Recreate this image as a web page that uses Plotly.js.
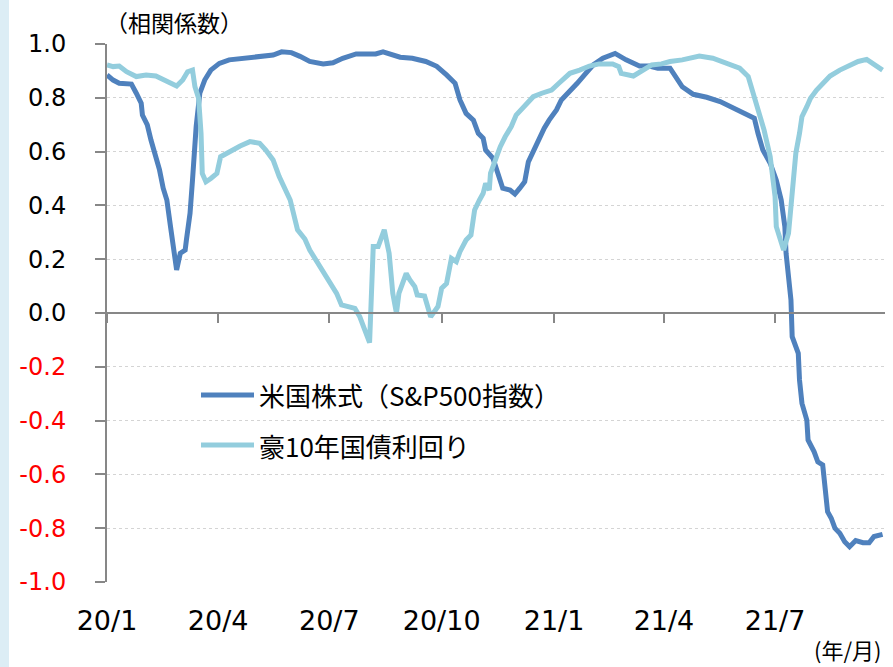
<!DOCTYPE html>
<html>
<head>
<meta charset="utf-8">
<script src="https://cdn.plot.ly/plotly-3.0.1.min.js"></script>
<style>
  html, body { margin: 0; padding: 0; }
  body { width: 893px; height: 667px; background: linear-gradient(to right, #dcedf5 0px, #dcedf5 9px, #ffffff 9px); }
  #chart { width: 893px; height: 667px; }
</style>
</head>
<body>
<div id="chart"></div>
<script>
// ---- Data ----
const seriesNames = ['米国株式（S&P500指数）', '豪10年国債利回り'];
const seriesColors = ['#4f81bd', '#93cddd'];

const spxDates = [
  '2020-01-01','2020-01-06','2020-01-11','2020-01-21','2020-01-25','2020-01-29','2020-01-30','2020-02-03',
  '2020-02-06','2020-02-10','2020-02-13','2020-02-16','2020-02-19','2020-02-22','2020-02-24','2020-02-27',
  '2020-03-01','2020-03-05','2020-03-06','2020-03-09','2020-03-11','2020-03-14','2020-03-17','2020-03-21',
  '2020-03-26','2020-04-02','2020-04-10','2020-04-21','2020-05-05','2020-05-16','2020-05-23','2020-05-31',
  '2020-06-07','2020-06-15','2020-06-26','2020-07-04','2020-07-12','2020-07-23','2020-08-08','2020-08-14',
  '2020-08-28','2020-09-07','2020-09-18','2020-09-27','2020-10-05','2020-10-12','2020-10-16','2020-10-21',
  '2020-10-27','2020-10-31','2020-11-04','2020-11-06','2020-11-12','2020-11-16','2020-11-20','2020-11-26',
  '2020-11-30','2020-12-04','2020-12-08','2020-12-11','2020-12-15','2020-12-19','2020-12-24','2020-12-28',
  '2021-01-03','2021-01-07','2021-01-14','2021-01-20','2021-01-27','2021-02-02','2021-02-10','2021-02-20',
  '2021-03-01','2021-03-12','2021-03-20','2021-03-27','2021-04-06','2021-04-11','2021-04-16','2021-04-25',
  '2021-05-06','2021-05-17','2021-05-25','2021-06-05','2021-06-14','2021-06-17','2021-06-21','2021-06-27',
  '2021-07-02','2021-07-06','2021-07-09','2021-07-10','2021-07-12','2021-07-14','2021-07-15','2021-07-20',
  '2021-07-21','2021-07-23','2021-07-27','2021-07-28','2021-08-02','2021-08-05','2021-08-09','2021-08-11',
  '2021-08-13','2021-08-16','2021-08-19','2021-08-23','2021-08-27','2021-08-31','2021-09-05','2021-09-11',
  '2021-09-16','2021-09-20','2021-09-27'
];
const spxValues = [
  0.885,0.866,0.854,0.851,0.817,0.780,0.736,0.699,
  0.643,0.587,0.532,0.464,0.420,0.321,0.259,0.160,
  0.222,0.234,0.271,0.371,0.494,0.693,0.817,0.866,
  0.903,0.928,0.941,0.947,0.954,0.959,0.971,0.968,
  0.954,0.935,0.926,0.930,0.947,0.963,0.963,0.971,
  0.951,0.947,0.935,0.917,0.885,0.854,0.792,0.742,
  0.717,0.668,0.650,0.606,0.575,0.525,0.464,0.457,
  0.442,0.464,0.488,0.562,0.600,0.643,0.687,0.717,
  0.755,0.792,0.823,0.854,0.891,0.922,0.947,0.965,
  0.941,0.918,0.918,0.910,0.910,0.879,0.841,0.813,
  0.802,0.786,0.767,0.745,0.724,0.668,0.606,0.557,
  0.494,0.420,0.321,0.222,0.135,0.048,-0.088,-0.150,
  -0.249,-0.336,-0.398,-0.472,-0.516,-0.553,-0.565,-0.646,
  -0.739,-0.763,-0.800,-0.819,-0.850,-0.869,-0.846,-0.854,
  -0.854,-0.831,-0.823
];

const bondDates = [
  '2020-01-01','2020-01-06','2020-01-11','2020-01-17','2020-01-25','2020-02-02','2020-02-10','2020-02-19',
  '2020-02-27','2020-03-03','2020-03-07','2020-03-11','2020-03-13','2020-03-16','2020-03-18','2020-03-19',
  '2020-03-22','2020-03-26','2020-03-31','2020-04-03','2020-04-10','2020-04-19','2020-04-27','2020-05-05',
  '2020-05-10','2020-05-16','2020-05-21','2020-05-25','2020-05-30','2020-06-05','2020-06-11','2020-06-15',
  '2020-06-20','2020-06-26','2020-07-01','2020-07-07','2020-07-11','2020-07-16','2020-07-22','2020-07-26',
  '2020-07-30','2020-08-03','2020-08-06','2020-08-10','2020-08-15','2020-08-19','2020-08-22','2020-08-25',
  '2020-08-27','2020-09-02','2020-09-05','2020-09-09','2020-09-11','2020-09-17','2020-09-22','2020-09-28',
  '2020-10-01','2020-10-05','2020-10-09','2020-10-13','2020-10-16','2020-10-21','2020-10-25','2020-10-28',
  '2020-11-01','2020-11-04','2020-11-06','2020-11-09','2020-11-10','2020-11-14','2020-11-18','2020-11-22',
  '2020-11-27','2020-12-01','2020-12-04','2020-12-09','2020-12-15','2020-12-22','2020-12-30','2021-01-05',
  '2021-01-14','2021-01-22','2021-01-30','2021-02-07','2021-02-18','2021-02-23','2021-02-25','2021-03-07',
  '2021-03-15','2021-03-22','2021-03-30','2021-04-06','2021-04-16','2021-04-30','2021-05-11','2021-05-22',
  '2021-06-02','2021-06-09','2021-06-14','2021-06-18','2021-06-22','2021-06-27','2021-06-29','2021-07-01',
  '2021-07-02','2021-07-08','2021-07-12','2021-07-14','2021-07-16','2021-07-18','2021-07-21','2021-07-23',
  '2021-07-27','2021-07-30','2021-08-04','2021-08-09','2021-08-15','2021-08-23','2021-08-31','2021-09-07',
  '2021-09-14','2021-09-19','2021-09-27'
];
const bondValues = [
  0.922,0.916,0.918,0.897,0.879,0.885,0.881,0.860,
  0.844,0.866,0.897,0.903,0.841,0.798,0.668,0.519,
  0.488,0.500,0.519,0.581,0.600,0.621,0.637,0.631,
  0.606,0.569,0.507,0.470,0.420,0.309,0.275,0.234,
  0.197,0.160,0.123,0.073,0.030,0.024,0.017,-0.014,
  -0.063,-0.110,0.247,0.247,0.309,0.222,0.073,-0.001,
  0.073,0.147,0.123,0.098,0.067,0.063,-0.014,0.024,
  0.092,0.110,0.203,0.191,0.228,0.271,0.290,0.383,
  0.420,0.445,0.482,0.457,0.519,0.569,0.618,0.655,
  0.693,0.736,0.752,0.773,0.804,0.817,0.829,0.854,
  0.891,0.903,0.918,0.926,0.926,0.916,0.891,0.881,
  0.903,0.922,0.926,0.935,0.941,0.955,0.947,0.930,
  0.910,0.879,0.804,0.730,0.680,0.581,0.519,0.432,
  0.321,0.234,0.296,0.395,0.519,0.594,0.668,0.730,
  0.767,0.798,0.829,0.854,0.881,0.903,0.918,0.935,
  0.943,0.928,0.903
];

const xTickVals = ['2020-01-01','2020-04-01','2020-07-01','2020-10-01','2021-01-01','2021-04-01','2021-07-01'];
const xTickText = ['20/1','20/4','20/7','20/10','21/1','21/4','21/7'];
const yTickVals = [-1.0,-0.8,-0.6,-0.4,-0.2,0.0,0.2,0.4,0.6,0.8,1.0];
const yTickText = ['-1.0','-0.8','-0.6','-0.4','-0.2','0.0','0.2','0.4','0.6','0.8','1.0'];

const chartTitle = '（相関係数）';
const xUnit = '(年/月)';

// ---- Build chart ----
const xRange = ['2020-01-01','2021-09-29'];
const axisGray = '#878787';
const latinFont = 'DejaVu Sans, Verdana, sans-serif';
const cjkFont = 'Noto Sans CJK JP, sans-serif';

const plotLeft = 107, plotW = 778, plotBottom = 582, plotH = 538;
const px = v => (v - plotLeft) / plotW;
const py = v => (plotBottom - v) / plotH;

const yText = yTickText.map((t, i) => yTickVals[i] < 0 ? '<span style="color:#ff0000">' + t + '</span>' : t);

const traces = [
  {
    x: spxDates, y: spxValues, name: seriesNames[0], type: 'scatter', mode: 'lines',
    line: { color: seriesColors[0], width: 5 }, xaxis: 'x', yaxis: 'y', showlegend: false
  },
  {
    x: bondDates, y: bondValues, name: seriesNames[1], type: 'scatter', mode: 'lines',
    line: { color: seriesColors[1], width: 5 }, xaxis: 'x', yaxis: 'y', showlegend: false
  },
  {
    x: [xRange[0]], y: [0], type: 'scatter', mode: 'markers', marker: { opacity: 0 },
    xaxis: 'x2', yaxis: 'y', showlegend: false, hoverinfo: 'skip'
  }
];

// legend drawn as paper shapes + annotations (long sample lines, as in the reference)
const legendRows = [395, 445];
const legendShapes = seriesNames.map((n, i) => ({
  type: 'line', xref: 'paper', yref: 'paper',
  x0: px(201), x1: px(254), y0: py(legendRows[i]), y1: py(legendRows[i]),
  line: { color: seriesColors[i], width: 5 }
}));
const legendLabels = seriesNames.map((n, i) => ({
  text: n, xref: 'paper', yref: 'paper', x: px(257), y: py(legendRows[i]),
  xanchor: 'left', yanchor: 'middle', showarrow: false,
  font: { family: cjkFont, size: 26, color: '#000000' }
}));

const layout = {
  width: 893, height: 667,
  margin: { l: 107, r: 8, t: 44, b: 85, pad: 0 },
  paper_bgcolor: 'rgba(0,0,0,0)',
  plot_bgcolor: 'rgba(0,0,0,0)',
  font: { family: latinFont, color: '#000000' },
  showlegend: false,
  xaxis: {
    type: 'date', range: xRange, tickvals: xTickVals, ticktext: xTickText,
    showgrid: false, showline: false, zeroline: false, ticks: '',
    tickfont: { family: latinFont, size: 27, color: '#000000' },
    ticklabelstandoff: 20, fixedrange: true
  },
  xaxis2: {
    type: 'date', range: xRange, tickvals: xTickVals, overlaying: 'x',
    anchor: 'free', position: 0.5, side: 'bottom',
    showline: true, linecolor: axisGray, linewidth: 2,
    ticks: 'outside', ticklen: 9, tickwidth: 2, tickcolor: axisGray,
    showticklabels: false, showgrid: false, zeroline: false
  },
  yaxis: {
    range: [-1, 1], tickvals: yTickVals, ticktext: yText,
    showline: true, linecolor: axisGray, linewidth: 2,
    ticks: 'outside', ticklen: 10, tickwidth: 2, tickcolor: axisGray,
    showgrid: true, gridcolor: '#d4d4d4', griddash: 'dot', gridwidth: 1,
    zeroline: false,
    tickfont: { family: latinFont, size: 24, color: '#000000' },
    ticklabelstandoff: 24
  },
  shapes: legendShapes,
  annotations: [
    {
      text: chartTitle, xref: 'paper', yref: 'paper', x: px(103), y: 1,
      xanchor: 'left', yanchor: 'bottom', yshift: 3, showarrow: false,
      font: { family: cjkFont, size: 23, color: '#000000' }
    },
    {
      text: xUnit, xref: 'paper', yref: 'paper', x: px(884), y: py(649),
      xanchor: 'right', yanchor: 'middle', showarrow: false,
      font: { family: cjkFont, size: 22, color: '#000000' }
    }
  ].concat(legendLabels)
};

Plotly.newPlot('chart', traces, layout, { staticPlot: true, displayModeBar: false });
</script>
</body>
</html>
